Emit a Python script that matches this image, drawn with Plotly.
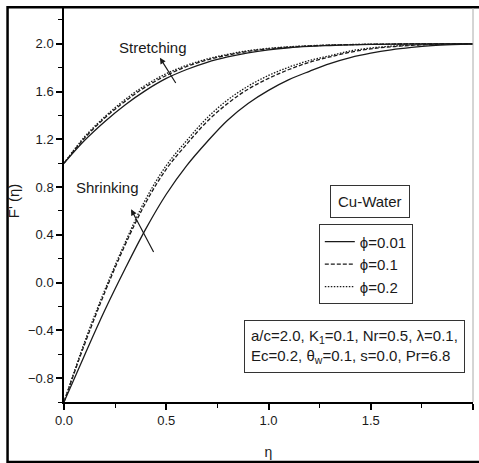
import plotly.graph_objects as go

eta = [0.0, 0.1, 0.2, 0.3, 0.4, 0.5, 0.6, 0.7, 0.8, 0.9, 1.0,
       1.1, 1.2, 1.3, 1.4, 1.5, 1.6, 1.7, 1.8, 1.9, 2.0]

# Stretching branch
stretch_phi001 = [1.00, 1.19, 1.35, 1.49, 1.61, 1.71, 1.785, 1.845, 1.89, 1.925, 1.95,
                  1.967, 1.978, 1.986, 1.991, 1.995, 1.997, 1.999, 2.0, 2.0, 2.0]
stretch_phi01 = [1.00, 1.21, 1.38, 1.52, 1.64, 1.735, 1.81, 1.865, 1.905, 1.937, 1.958,
                 1.972, 1.982, 1.989, 1.993, 1.996, 1.998, 1.999, 2.0, 2.0, 2.0]
stretch_phi02 = [1.00, 1.22, 1.39, 1.535, 1.655, 1.75, 1.82, 1.873, 1.912, 1.942, 1.962,
                 1.975, 1.984, 1.99, 1.994, 1.997, 1.998, 1.999, 2.0, 2.0, 2.0]

# Shrinking branch
shrink_phi001 = [-1.00, -0.61, -0.23, 0.12, 0.45, 0.74, 0.98, 1.18, 1.36, 1.50, 1.61,
                 1.70, 1.77, 1.835, 1.885, 1.922, 1.95, 1.97, 1.985, 1.994, 2.0]
shrink_phi01 = [-1.00, -0.52, -0.08, 0.32, 0.67, 0.95, 1.16, 1.35, 1.50, 1.62, 1.71,
                1.785, 1.845, 1.89, 1.93, 1.958, 1.975, 1.987, 1.994, 1.998, 2.0]
shrink_phi02 = [-1.00, -0.50, -0.06, 0.34, 0.70, 0.98, 1.19, 1.38, 1.53, 1.645, 1.735,
                1.805, 1.86, 1.90, 1.94, 1.965, 1.98, 1.99, 1.995, 1.998, 2.0]

legend_names = ["ϕ=0.01", "ϕ=0.1", "ϕ=0.2"]
dash_styles = ["solid", "4px,2px", "1.5px,1.5px"]

x_ticks = [0.0, 0.5, 1.0, 1.5, 2.0]
y_ticks = [-0.8, -0.4, 0.0, 0.4, 0.8, 1.2, 1.6, 2.0]

FONT = "Liberation Sans, Arial, sans-serif"
INK = "#1a1a1a"

fig = go.Figure()

stretch = [stretch_phi001, stretch_phi01, stretch_phi02]
shrink = [shrink_phi001, shrink_phi01, shrink_phi02]
for i in range(3):
    fig.add_trace(go.Scatter(
        x=eta, y=stretch[i], mode="lines", name=legend_names[i],
        legendgroup=legend_names[i], showlegend=True,
        line=dict(color=INK, width=1.3, dash=dash_styles[i], shape="spline")))
    fig.add_trace(go.Scatter(
        x=eta, y=shrink[i], mode="lines", name=legend_names[i],
        legendgroup=legend_names[i], showlegend=False,
        line=dict(color=INK, width=1.3, dash=dash_styles[i], shape="spline")))

# arrows
fig.add_annotation(x=0.469, y=1.883, ax=0.551, ay=1.659, xref="x", yref="y",
                   axref="x", ayref="y", text="", showarrow=True,
                   arrowhead=2, arrowsize=1, arrowwidth=1.2, arrowcolor=INK)
fig.add_annotation(x=0.328, y=0.614, ax=0.442, ay=0.244, xref="x", yref="y",
                   axref="x", ayref="y", text="", showarrow=True,
                   arrowhead=2, arrowsize=1, arrowwidth=1.2, arrowcolor=INK)

fig.add_annotation(x=0.435, y=1.97, xref="x", yref="y", text="Stretching",
                   xanchor="center", yanchor="middle",
                   showarrow=False, font=dict(family=FONT, size=15, color=INK))
fig.add_annotation(x=0.214, y=0.80, xref="x", yref="y", text="Shrinking",
                   xanchor="center", yanchor="middle",
                   showarrow=False, font=dict(family=FONT, size=15, color=INK))

fig.add_annotation(x=0.749, y=0.51, xref="paper", yref="paper", text="Cu-Water",
                   xanchor="center", yanchor="middle",
                   showarrow=False, font=dict(family=FONT, size=15, color=INK),
                   bordercolor="#333", borderwidth=1, borderpad=7, bgcolor="white")

fig.add_annotation(x=0.7095, y=0.1407, xref="paper", yref="paper",
                   xanchor="center", yanchor="middle",
                   text="a/c=2.0, K<sub>1</sub>=0.1, Nr=0.5, λ=0.1,<br>Ec=0.2, θ<sub>w</sub>=0.1, s=0.0, Pr=6.8",
                   showarrow=False, align="left",
                   font=dict(family=FONT, size=15, color=INK),
                   bordercolor="#333", borderwidth=1, borderpad=6, bgcolor="white")

# y-axis title
fig.add_annotation(x=-0.1247, y=0.512, xref="paper", yref="paper", text="F' (η)",
                   textangle=-90, xanchor="center", yanchor="middle",
                   showarrow=False, font=dict(family=FONT, size=15, color=INK))

# outer frame
fig.add_shape(type="rect", xref="paper", yref="paper", x0=-0.138, x1=1.08,
              y0=-0.152, y1=1.002, line=dict(color="black", width=2.5))
# right spine
fig.add_shape(type="line", xref="paper", yref="paper", x0=1, x1=1, y0=0, y1=1,
              line=dict(color="#aaa", width=1))

fig.update_layout(
    width=479, height=463,
    margin=dict(l=64, r=6, t=8, b=61),
    plot_bgcolor="white", paper_bgcolor="white",
    font=dict(family=FONT, size=13, color=INK),
    showlegend=True,
    legend=dict(x=0.623, y=0.4506, xanchor="left", yanchor="top",
                bordercolor="#333", borderwidth=1, bgcolor="white",
                font=dict(family=FONT, size=15, color=INK),
                tracegroupgap=0),
    xaxis=dict(range=[0, 2], tickvals=x_ticks, tickformat=".1f",
               showgrid=False, zeroline=False, showline=True, linecolor="black",
               linewidth=1.5, ticks="outside", ticklen=6, tickwidth=1.5,
               tickcolor="black",
               minor=dict(dtick=0.25, tick0=0, ticks="outside", ticklen=4,
                          tickwidth=1.2, tickcolor="black"),
               tickfont=dict(family=FONT, size=13, color=INK),
               title=dict(text="η", font=dict(family=FONT, size=14, color=INK),
                          standoff=20),
               automargin=False),
    yaxis=dict(range=[-1.0, 2.3], tickvals=y_ticks, tickformat=".1f",
               showgrid=False, zeroline=False, showline=True, linecolor="black",
               linewidth=1.5, ticks="outside", ticklen=6, tickwidth=1.5,
               tickcolor="black",
               minor=dict(dtick=0.2, tick0=0, ticks="outside", ticklen=4,
                          tickwidth=1.2, tickcolor="black"),
               tickfont=dict(family=FONT, size=13, color=INK),
               automargin=False),
)

fig.write_html("out.html")
